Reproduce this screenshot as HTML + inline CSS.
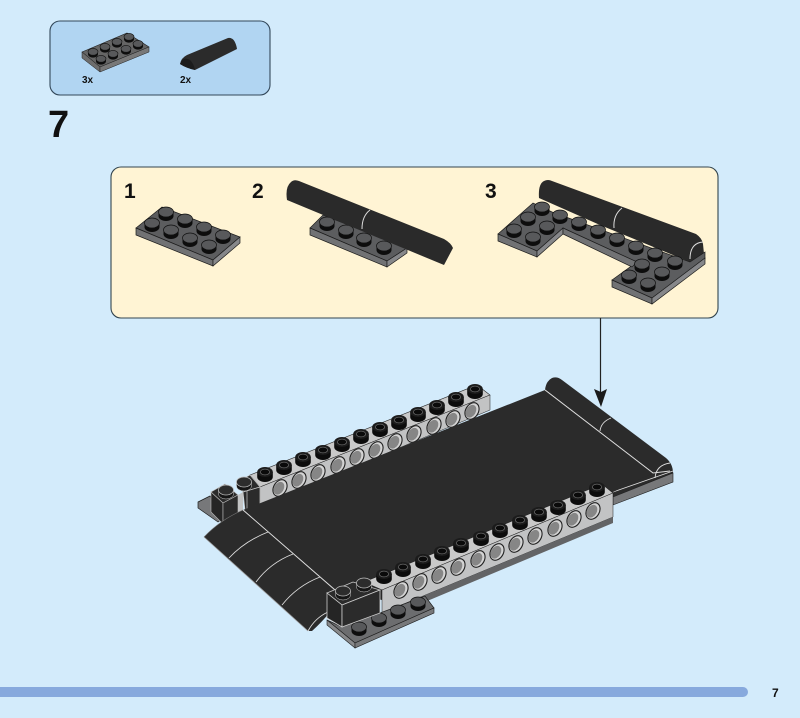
<!DOCTYPE html>
<html><head><meta charset="utf-8"><style>
html,body{margin:0;padding:0;background:#d3ebfb}
svg{display:block}
text{font-family:"Liberation Sans",sans-serif;font-weight:700;fill:#111}
</style></head><body>
<svg width="800" height="718" viewBox="0 0 800 718" xmlns="http://www.w3.org/2000/svg">
<defs>
<g id="s"><path d="M-7.5 -2V2A7.5 5 0 0 0 7.5 2V-2Z" fill="#0d0d0d"/><ellipse cx="0" cy="-2" rx="7.5" ry="5" fill="#58595b" stroke="#111" stroke-width=".7"/></g>
<g id="m"><path d="M-5 -1.2V1.2A5 3.4 0 0 0 5 1.2V-1.2Z" fill="#0d0d0d"/><ellipse cx="0" cy="-1.2" rx="5" ry="3.4" fill="#58595b" stroke="#111" stroke-width=".6"/></g>
<g id="b"><path d="M-7.8 -2V3A7.8 5 0 0 0 7.8 3V-2Z" fill="#0c0c0c"/><ellipse cx="0" cy="-2" rx="7.8" ry="5" fill="#1b1b1b"/><ellipse cx="0" cy="-2" rx="4.6" ry="2.9" fill="#0a0a0a" stroke="#666" stroke-width=".8"/></g>
<g id="d"><path d="M-7.5 -2V2A7.5 5 0 0 0 7.5 2V-2Z" fill="#151515" stroke="#ccc" stroke-width=".5"/><ellipse cx="0" cy="-2" rx="7.5" ry="5" fill="#2c2c2c" stroke="#bbb" stroke-width=".7"/></g>
<g id="h"><ellipse cx="0" cy="0" rx="6.4" ry="8.8" transform="rotate(30)" fill="#d4d4d4" stroke="#222" stroke-width="1.1"/><ellipse cx="-.8" cy=".7" rx="4.8" ry="6.8" transform="rotate(30)" fill="#868686"/></g>
</defs>
<rect width="800" height="718" fill="#d3ebfb"/>

<!-- parts panel -->
<rect x="50" y="21" width="220" height="74" rx="10" fill="#b1d5f2" stroke="#33485a" stroke-width="1.1"/>
<path d="M82 52L127 33L149 47L100 67Z" fill="#656565" stroke="#222" stroke-width=".6"/>
<path d="M82 52L100 67V72L82 58Z" fill="#6d6d6d" stroke="#222" stroke-width=".5"/>
<path d="M100 67L149 47V52L100 72Z" fill="#787878" stroke="#222" stroke-width=".5"/>
<use href="#m" x="93" y="53"/><use href="#m" x="105" y="48"/><use href="#m" x="117" y="43"/><use href="#m" x="129" y="38"/>
<use href="#m" x="101" y="60"/><use href="#m" x="113" y="55"/><use href="#m" x="126" y="50"/><use href="#m" x="138" y="45"/>
<path d="M180 64Q181 58 187 55L228 38Q235 37 237 49L195 70Q186 68 180 64Z" fill="#2b2b2b"/>
<path d="M180 64Q183 56 190 60Q194 64 195 70Q186 68 180 64Z" fill="#1c1c1c"/>
<text x="82" y="83" font-size="10">3x</text>
<text x="180" y="83" font-size="10">2x</text>
<text x="48" y="137" font-size="38">7</text>

<!-- step panel -->
<rect x="111" y="167" width="607" height="151" rx="10" fill="#fff4d4" stroke="#33454f" stroke-width="1.1"/>
<text x="124" y="198" font-size="21">1</text>
<text x="252" y="198" font-size="21">2</text>
<text x="485" y="198" font-size="21">3</text>

<!-- step 1 -->
<path d="M136 228L162 207L240 237L213 260Z" fill="#5c5d5f" stroke="#1c1c1c" stroke-width=".7"/>
<path d="M136 228L213 260V266L136 235Z" fill="#717274" stroke="#1c1c1c" stroke-width=".7"/>
<path d="M213 260L240 237V243L213 266Z" fill="#86878a" stroke="#1c1c1c" stroke-width=".7"/>
<use href="#s" x="166" y="214"/><use href="#s" x="185" y="221"/><use href="#s" x="204" y="229"/><use href="#s" x="223" y="237"/>
<use href="#s" x="152" y="225"/><use href="#s" x="171" y="232"/><use href="#s" x="190" y="240"/><use href="#s" x="209" y="247"/>

<!-- step 2 -->
<path d="M310 228L323 215L407 248L387 261Z" fill="#5c5d5f" stroke="#1c1c1c" stroke-width=".7"/>
<path d="M310 228L387 261V267L310 235Z" fill="#717274" stroke="#1c1c1c" stroke-width=".7"/>
<path d="M387 261L407 248V253L387 267Z" fill="#86878a" stroke="#1c1c1c" stroke-width=".7"/>
<use href="#s" x="327" y="224"/><use href="#s" x="346" y="232"/><use href="#s" x="364" y="240"/><use href="#s" x="384" y="248"/>
<path d="M287 200Q285 187 291 182Q294 179 299 181L444 239Q451 243 453 248L444 265Z" fill="#2a2a2a"/>
<path d="M370 210Q362 216 362 229" fill="none" stroke="#ddd" stroke-width="1"/>

<!-- step 3 -->
<path d="M539 198Q538 184 544 181Q548 179 552 181L696 234Q702 238 703 244L704 254L690 262L600 225Z" fill="#2a2a2a"/>
<path d="M622 208Q613 215 614 228" fill="none" stroke="#ddd" stroke-width="1"/>
<path d="M703 242Q690 243 690 259" fill="none" stroke="#ddd" stroke-width="1"/>
<path d="M498 234L533 203L552 212L690 262L705 252V259L652 298L612 280L637 262L563 228L537 251Z" fill="#5c5d5f" stroke="#1c1c1c" stroke-width=".7"/>
<path d="M498 234L537 251V257L498 241Z" fill="#717274" stroke="#1c1c1c" stroke-width=".7"/>
<path d="M537 251L563 228V234L537 257Z" fill="#86878a" stroke="#1c1c1c" stroke-width=".7"/>
<path d="M563 228L637 262L632 267L563 234Z" fill="#717274" stroke="#1c1c1c" stroke-width=".7"/>
<path d="M612 280L652 298V304L612 287Z" fill="#717274" stroke="#1c1c1c" stroke-width=".7"/>
<path d="M652 298L705 258V264L652 304Z" fill="#86878a" stroke="#1c1c1c" stroke-width=".7"/>
<use href="#s" x="542" y="209"/><use href="#s" x="560" y="217"/><use href="#s" x="528" y="219"/><use href="#s" x="547" y="228"/><use href="#s" x="514" y="231"/><use href="#s" x="533" y="239"/>
<use href="#s" x="579" y="224"/><use href="#s" x="598" y="232"/><use href="#s" x="617" y="240"/><use href="#s" x="636" y="248"/>
<use href="#s" x="655" y="255"/><use href="#s" x="675" y="263"/><use href="#s" x="642" y="266"/><use href="#s" x="662" y="274"/><use href="#s" x="629" y="277"/><use href="#s" x="648" y="285"/>

<!-- main model -->
<!-- far right slope and base -->
<path d="M545 390Q546 381 552 378Q557 376 562 380L666 458Q673 464 673 473L613 497V492Z" fill="#2b2b2b"/>
<path d="M613 497L673 473V482L613 505Z" fill="#77787a" stroke="#1d1d1d" stroke-width=".6"/>
<path d="M613 492L653 478L673 471" fill="none" stroke="#ddd" stroke-width=".9"/>
<path d="M545 390L653 473L670 471" fill="none" stroke="#ddd" stroke-width=".9"/>
<path d="M611 418Q601 422 600 431" fill="none" stroke="#ddd" stroke-width=".9"/>
<path d="M670 463Q656 465 655 478" fill="none" stroke="#ddd" stroke-width=".9"/>
<!-- left base plate -->
<path d="M198 502L210 496L225 517L218 522L198 508Z" fill="#77787a" stroke="#1d1d1d" stroke-width=".7"/>
<!-- top beam -->
<path d="M250 475L477 385L490 395L260 487Z" fill="#c9c9c9" stroke="#222" stroke-width=".6"/>
<path d="M260 487L490 395V410L260 506Z" fill="#c2c3c4" stroke="#222" stroke-width=".5"/>
<use href="#b" x="265" y="474"/><use href="#b" x="284" y="467"/><use href="#b" x="303" y="459"/><use href="#b" x="323" y="452"/><use href="#b" x="342" y="444"/><use href="#b" x="361" y="436"/><use href="#b" x="380" y="429"/><use href="#b" x="399" y="422"/><use href="#b" x="418" y="414"/><use href="#b" x="437" y="407"/><use href="#b" x="456" y="399"/><use href="#b" x="475" y="391"/>
<use href="#h" x="280" y="488"/><use href="#h" x="299" y="480"/><use href="#h" x="318" y="473"/><use href="#h" x="338" y="465"/><use href="#h" x="357" y="457"/><use href="#h" x="376" y="450"/><use href="#h" x="395" y="442"/><use href="#h" x="414" y="434"/><use href="#h" x="434" y="426"/><use href="#h" x="453" y="419"/><use href="#h" x="472" y="411"/>
<!-- top-left bricks -->
<path d="M237 482L250 475L260 487L243 492Z" fill="#2b2b2b" stroke="#ccc" stroke-width=".6"/>
<path d="M243 492L260 487V504L245 510Z" fill="#2b2b2b" stroke="#ccc" stroke-width=".7"/>
<path d="M247 491V509" stroke="#ccc" stroke-width=".7"/>
<path d="M211 492L225 484L238 495L223 503Z" fill="#2b2b2b" stroke="#bbb" stroke-width=".6"/>
<path d="M211 492L223 503V524L211 512Z" fill="#252525" stroke="#bbb" stroke-width=".6"/>
<path d="M223 503L238 495V514L223 524Z" fill="#2b2b2b" stroke="#bbb" stroke-width=".6"/>
<path d="M238 495L243 492V510L238 514Z" fill="#c2c3c4"/>
<use href="#d" x="244" y="484"/><use href="#d" x="226" y="492"/>
<!-- main black plate -->
<path d="M243 510L545 390L653 473L613 492L613 505L382 600L335 590Z" fill="#2b2b2b"/>
<path d="M243 510L335 590" fill="none" stroke="#ddd" stroke-width=".9"/>
<path d="M545 390L653 473" fill="none" stroke="#ddd" stroke-width=".9"/>
<!-- front slopes -->
<path d="M243 510Q220 520 204 537L308 631L312 631Q322 622 330 612L345 590L335 590Z" fill="#2b2b2b"/>
<path d="M204 537L308 631" fill="none" stroke="#999" stroke-width=".8"/>
<path d="M243 510Q220 520 204 537" fill="none" stroke="#777" stroke-width=".6"/>
<path d="M268 532Q245 541 229 558M293 554Q270 563 256 582M320 577Q297 586 282 605M328 612Q315 618 308 631" fill="none" stroke="#ddd" stroke-width=".9"/>
<path d="M243 510L335 590" fill="none" stroke="#ddd" stroke-width=".9"/>
<!-- bottom beam -->
<path d="M364 582L602 484L613 493L382 590Z" fill="#c9c9c9" stroke="#222" stroke-width=".6"/>
<path d="M382 590L613 493V517L382 613Z" fill="#c2c3c4" stroke="#222" stroke-width=".5"/>
<path d="M382 613L613 517V523L382 620Z" fill="#636466"/>
<use href="#b" x="384" y="576"/><use href="#b" x="403" y="569"/><use href="#b" x="423" y="561"/><use href="#b" x="442" y="553"/><use href="#b" x="461" y="545"/><use href="#b" x="481" y="538"/><use href="#b" x="500" y="530"/><use href="#b" x="520" y="522"/><use href="#b" x="539" y="514"/><use href="#b" x="558" y="507"/><use href="#b" x="578" y="497"/><use href="#b" x="597" y="489"/>
<use href="#h" x="401" y="590"/><use href="#h" x="420" y="582"/><use href="#h" x="439" y="575"/><use href="#h" x="458" y="567"/><use href="#h" x="478" y="559"/><use href="#h" x="497" y="552"/><use href="#h" x="516" y="544"/><use href="#h" x="535" y="536"/><use href="#h" x="555" y="528"/><use href="#h" x="574" y="519"/><use href="#h" x="593" y="511"/>
<!-- bottom plate -->
<path d="M327 620L342 627L380 613L425 596L434 608L355 643Z" fill="#6c6d6f" stroke="#1d1d1d" stroke-width=".7"/>
<path d="M327 620L355 643V648L327 625Z" fill="#88898b" stroke="#1d1d1d" stroke-width=".6"/>
<path d="M355 643L434 608V613L355 648Z" fill="#77787a" stroke="#1d1d1d" stroke-width=".6"/>
<use href="#s" x="359" y="629"/><use href="#s" x="379" y="620"/><use href="#s" x="398" y="612"/><use href="#s" x="418" y="604"/>
<!-- front brick -->
<path d="M327 593L353 582L380 590L342 605Z" fill="#2b2b2b" stroke="#ccc" stroke-width=".7"/>
<path d="M327 593L342 605V627L327 618Z" fill="#252525" stroke="#ccc" stroke-width=".8"/>
<path d="M342 605L380 590V613L342 627Z" fill="#2b2b2b" stroke="#ccc" stroke-width=".8"/>
<use href="#d" x="364" y="585"/><use href="#d" x="343" y="593"/>

<!-- arrow -->
<path d="M600.5 318V392" stroke="#222" stroke-width="1.2"/>
<path d="M594 389L601 392L607 389L601 407Z" fill="#1b1b1b"/>

<!-- footer -->
<path d="M0 687H743A5 5 0 0 1 743 697H0Z" fill="#87a9dd"/>
<text x="772" y="697" font-size="12">7</text>
</svg>
</body></html>
